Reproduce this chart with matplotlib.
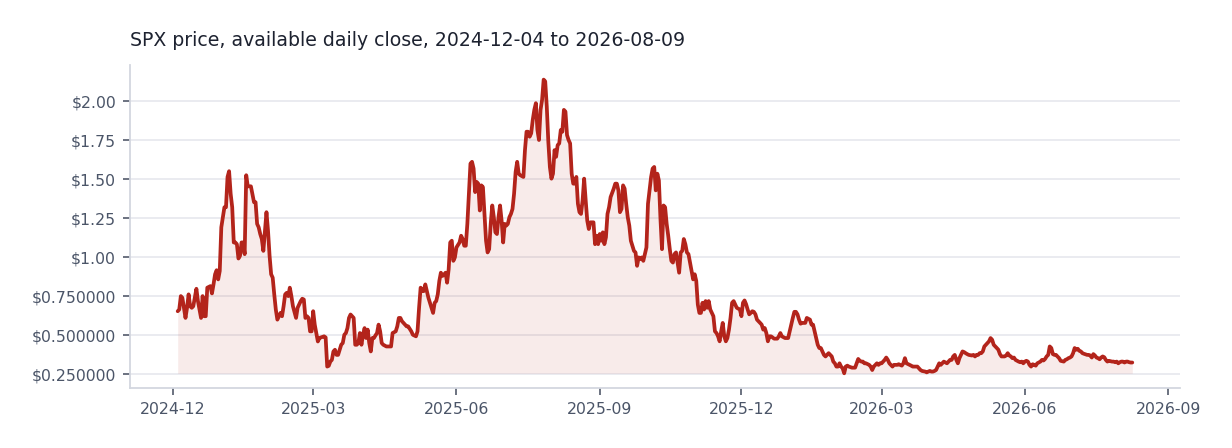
import matplotlib
matplotlib.use("Agg")
import matplotlib.pyplot as plt
import matplotlib.dates as mdates
from matplotlib.ticker import FuncFormatter
import pandas as pd
import numpy as np

start_date = "2024-12-04"
title_text = "SPX price, available daily close, 2024-12-04 to 2026-08-09"

# days since start_date
day_offsets = [
    0, 1, 2, 3, 5, 6, 7, 8, 9, 10, 12, 13, 15, 16, 17, 18, 19, 21, 22, 23, 24, 25, 26, 27, 28,
    30, 31, 32, 33, 34, 35, 36, 37, 38, 39, 40, 41, 42, 43, 44, 45, 47, 49, 50, 51, 52, 53, 54,
    55, 57, 58, 59, 60, 61, 62, 63, 64, 66, 67, 68, 69, 70, 71, 72, 73, 74, 76, 77, 78, 79, 80,
    81, 82, 83, 84, 85, 86, 87, 88, 90, 91, 92,
    94, 95, 96, 97, 98, 99, 100, 101, 102, 103, 105, 106, 107, 108, 109, 110, 111, 112, 113, 114,
    115, 116, 117, 118, 119, 120, 121, 122, 123, 124, 125, 126, 127, 128, 129, 130, 131, 132, 134,
    136, 137, 138, 140, 141, 142, 143, 144, 146, 147, 148, 150, 151, 153, 154, 155, 156, 157, 158,
    159, 160, 161, 163, 164, 165, 166, 167, 168, 169, 170, 171, 172, 173, 174, 175, 176, 177, 178,
    179, 181, 182, 183, 184, 185, 186, 187, 188, 189, 190, 191, 192, 193, 194,
    195, 196, 197, 198, 199, 200, 201, 202, 203, 204, 205, 206, 207, 208, 209, 210, 211, 212, 213,
    214, 215, 216, 217, 218, 219, 220, 222, 223, 224, 225, 226, 227, 228, 229, 230, 231, 232, 233,
    234, 235, 236, 237, 238, 239, 240, 241, 242, 243, 244, 245, 246, 247, 248, 249, 250, 251, 252,
    253, 254, 255, 256, 257, 258, 259, 260, 261, 262, 263, 264, 265, 266, 267, 268, 269, 270, 271,
    272, 273, 274, 275, 276, 277, 278, 280, 281, 282, 283, 284, 285, 286, 287, 288, 289, 290, 291,
    293, 294, 295, 296, 297,
    298, 299, 301, 302, 303, 304, 305, 306, 307, 308, 309, 310, 311, 312, 313, 314, 315, 316, 317,
    318, 319, 320, 321, 322, 323, 324, 325, 326, 327, 328, 330, 331, 332, 333, 334, 335, 336, 337,
    338, 339, 340, 341, 342, 344, 345, 346, 347, 348, 349, 350, 351, 352, 353, 354, 355, 356, 357,
    358, 359, 361, 362, 363, 364, 365, 366, 367, 368, 369, 370, 371, 372, 373, 374, 375, 376, 377,
    378, 379, 380, 381, 382, 383, 384, 385, 386, 387, 388, 390, 391, 392, 393, 394, 395, 396, 397,
    398, 399,
    400, 401, 402, 403, 404, 406, 407, 408, 409, 410, 411, 412, 413, 414, 415, 416, 417, 418, 420,
    421, 422, 423, 424, 425, 426, 427, 428, 429, 430, 431, 433, 435, 436, 437, 438, 439, 440, 441,
    442, 444, 445, 446, 447, 449, 450, 451, 452, 453, 454, 455, 456, 457, 458, 459, 460, 461, 462,
    463, 465, 466, 467, 468, 470, 471, 472, 473, 474, 475, 476, 477, 478, 480, 481, 482, 483, 484,
    485, 486, 487, 488, 489, 490, 491, 492, 494, 495, 496, 497, 498, 499, 500, 501, 502, 503, 504,
    505, 506, 507, 508, 510, 511, 512, 513, 514, 515, 516,
    517, 518, 519, 520, 521, 522, 523, 524, 525, 526, 527, 528, 529, 530, 531, 532, 533, 534, 535,
    536, 537, 538, 540, 541, 542, 543, 544, 545, 546, 547, 548, 549, 550, 551, 552, 554, 555, 556,
    557, 558, 559, 560, 561, 562, 563, 564, 565, 566, 567, 569, 570, 571, 572, 573, 574, 575, 576,
    577, 578, 579, 580, 581, 582, 584, 585, 586, 587, 588, 589, 590, 591, 592, 593, 594, 595, 596,
    597, 598, 600, 601, 602, 603, 604, 605, 606, 607, 608, 609, 610, 611, 612, 613,
]

close_usd = [
    0.655, 0.666, 0.752, 0.741, 0.612, 0.677, 0.763, 0.687, 0.677, 0.687, 0.799, 0.720, 0.612,
    0.752, 0.623, 0.623, 0.806, 0.816, 0.769, 0.827, 0.892, 0.918, 0.859, 0.913, 1.193,
    1.322, 1.322, 1.516, 1.553, 1.408, 1.322, 1.096, 1.096, 1.085, 0.993, 1.010, 1.096, 1.096,
    1.021, 1.527, 1.456, 1.456, 1.354, 1.354, 1.215, 1.193, 1.150, 1.118,
    1.042, 1.290, 1.171, 1.010, 0.892, 0.870, 0.763, 0.666, 0.601, 0.644, 0.623, 0.687, 0.763,
    0.773, 0.752, 0.806, 0.752, 0.687, 0.612, 0.677, 0.698, 0.720, 0.735,
    0.730, 0.612, 0.623, 0.612, 0.526, 0.526, 0.655, 0.569, 0.461, 0.483, 0.487,
    0.494, 0.487, 0.300, 0.305, 0.332, 0.343, 0.397, 0.408, 0.375, 0.375, 0.440, 0.451, 0.504,
    0.515, 0.547, 0.612, 0.634, 0.623, 0.612, 0.440,
    0.440, 0.451, 0.515, 0.440, 0.504, 0.547, 0.483, 0.537, 0.451, 0.397, 0.483, 0.483, 0.500,
    0.515, 0.569, 0.526, 0.451, 0.440, 0.429,
    0.429, 0.429, 0.515, 0.526, 0.558, 0.612, 0.612, 0.591, 0.569, 0.558, 0.558, 0.526, 0.504,
    0.494, 0.526, 0.677, 0.806, 0.784, 0.784,
    0.827, 0.784, 0.741, 0.677, 0.644, 0.709, 0.720, 0.763, 0.849, 0.902, 0.881, 0.890, 0.902,
    0.838, 0.924, 1.096, 1.107, 0.978, 1.000,
    1.064, 1.096, 1.139, 1.118, 1.075, 1.075, 1.215, 1.408, 1.602, 1.613, 1.570, 1.419, 1.484,
    1.473, 1.301,
    1.462, 1.451, 1.279, 1.107, 1.032, 1.053, 1.215, 1.333, 1.258, 1.161, 1.150, 1.258, 1.333,
    1.236, 1.096, 1.215, 1.204, 1.215, 1.258,
    1.279, 1.311, 1.408, 1.548, 1.613, 1.537, 1.527, 1.516, 1.688, 1.806, 1.806, 1.774, 1.796,
    1.882, 1.946, 1.989, 1.817, 1.753, 1.946,
    2.011, 2.140, 2.129, 1.968, 1.742, 1.580, 1.505, 1.537, 1.688, 1.645, 1.720, 1.731, 1.817,
    1.806, 1.946, 1.935, 1.785, 1.753, 1.731,
    1.537, 1.473, 1.473, 1.516, 1.344, 1.290, 1.279, 1.365, 1.505, 1.365, 1.236, 1.182, 1.225,
    1.225, 1.225, 1.085, 1.139, 1.085, 1.150,
    1.107, 1.161, 1.085, 1.129, 1.279, 1.322, 1.387, 1.441, 1.473, 1.473, 1.430, 1.290, 1.311,
    1.462, 1.441, 1.344, 1.258, 1.204, 1.107,
    1.042, 1.032, 0.946, 1.000, 0.989,
    1.000, 0.978, 1.064, 1.344, 1.430, 1.516, 1.570, 1.580, 1.430, 1.537, 1.494, 1.250, 1.053,
    1.333, 1.322, 1.215, 1.139, 1.053, 0.978,
    0.967, 1.021, 1.032, 0.967, 0.902, 1.032, 1.042, 1.118, 1.085, 1.032, 1.021, 0.913, 0.859,
    0.892, 0.849, 0.698, 0.644, 0.644, 0.709,
    0.666, 0.720, 0.677, 0.720, 0.666, 0.623, 0.526, 0.515, 0.494, 0.462, 0.526, 0.580, 0.494,
    0.462, 0.483, 0.537, 0.612, 0.709, 0.720,
    0.698, 0.677, 0.666, 0.623, 0.709, 0.724, 0.700, 0.666, 0.635, 0.644, 0.655, 0.651, 0.635,
    0.601, 0.591, 0.580, 0.569, 0.537, 0.547,
    0.515, 0.462, 0.494, 0.494, 0.487, 0.479, 0.479, 0.479, 0.494, 0.515, 0.494, 0.483, 0.483,
    0.483, 0.526, 0.569, 0.612, 0.651, 0.651,
    0.635, 0.601,
    0.575, 0.580, 0.580, 0.580, 0.612, 0.601, 0.569, 0.569, 0.526, 0.483, 0.440, 0.419, 0.419,
    0.397, 0.375, 0.365, 0.375, 0.386, 0.365,
    0.332, 0.321, 0.300, 0.300, 0.321, 0.300, 0.289, 0.257, 0.300, 0.306, 0.300, 0.293, 0.293,
    0.321, 0.349, 0.337, 0.332, 0.332, 0.321,
    0.321, 0.311, 0.300, 0.278, 0.300, 0.321, 0.311, 0.321, 0.321, 0.332, 0.343, 0.358, 0.343,
    0.321, 0.311, 0.300, 0.311, 0.311, 0.311,
    0.315, 0.306, 0.321, 0.354, 0.321, 0.311, 0.306, 0.300, 0.300, 0.300, 0.300, 0.289, 0.278,
    0.272, 0.268, 0.263, 0.268, 0.272, 0.268,
    0.268, 0.272, 0.278, 0.300, 0.321, 0.311, 0.321, 0.332, 0.321, 0.332, 0.343, 0.343, 0.365,
    0.375, 0.343, 0.321, 0.354, 0.375, 0.397,
    0.393, 0.386, 0.380, 0.375, 0.371, 0.375, 0.365, 0.375, 0.375, 0.386, 0.386,
    0.397, 0.429, 0.440, 0.451, 0.462, 0.483, 0.472, 0.440, 0.430, 0.419, 0.408, 0.380, 0.365,
    0.365, 0.365, 0.371, 0.386, 0.371, 0.365,
    0.354, 0.358, 0.343, 0.332, 0.328, 0.332, 0.321, 0.332, 0.337, 0.332, 0.311, 0.300, 0.315,
    0.311, 0.306, 0.321, 0.332, 0.343, 0.339,
    0.349, 0.365, 0.375, 0.429, 0.419, 0.380, 0.375, 0.375, 0.365, 0.354, 0.337, 0.332, 0.343,
    0.347, 0.354, 0.358, 0.365, 0.386, 0.419,
    0.408, 0.414, 0.401, 0.397, 0.386, 0.382, 0.375, 0.375, 0.371, 0.358, 0.380, 0.371, 0.358,
    0.354, 0.347, 0.358, 0.365, 0.360, 0.343,
    0.332, 0.337, 0.332, 0.332, 0.328, 0.332, 0.321, 0.328, 0.332, 0.332, 0.326, 0.332, 0.332,
    0.328, 0.326, 0.326,
]

y_ticks = [0.25, 0.50, 0.75, 1.00, 1.25, 1.50, 1.75, 2.00]

line_color = "#b3241b"
fill_color = "#b3241b"

dates = pd.Timestamp(start_date) + pd.to_timedelta(day_offsets, unit="D")
prices = np.array(close_usd)

fig = plt.figure(figsize=(12.32, 4.48), dpi=100)
ax = fig.add_axes([0.1055, 0.134, 0.8523, 0.721])

ax.fill_between(dates, prices, prices.min(), color=fill_color, alpha=0.09, linewidth=0)
ax.plot(dates, prices, color=line_color, linewidth=2.7, solid_joinstyle="round",
        solid_capstyle="round")

ax.set_yticks(y_ticks)


def fmt_price(v, pos=None):
    if v >= 1:
        return f"${v:.2f}"
    return f"${v:.6f}"


ax.yaxis.set_major_formatter(FuncFormatter(fmt_price))
ax.xaxis.set_major_locator(mdates.MonthLocator(bymonth=[3, 6, 9, 12]))
ax.xaxis.set_major_formatter(mdates.DateFormatter("%Y-%m"))

ax.grid(axis="y", color="#e6e8ee", linewidth=1.2)
ax.grid(axis="x", visible=False)
ax.set_axisbelow(True)

for side in ["top", "right"]:
    ax.spines[side].set_visible(False)
for side in ["left", "bottom"]:
    ax.spines[side].set_color("#d3d7df")
    ax.spines[side].set_linewidth(1.3)

ax.tick_params(axis="both", colors="#6b7280", length=5, width=1.4, labelsize=11.3,
               labelcolor="#4b5568", pad=5)

ax.set_title(title_text, loc="left", fontsize=13.6, color="#1d2230", pad=14)

fig.savefig("out.png", dpi=100, facecolor="white")
